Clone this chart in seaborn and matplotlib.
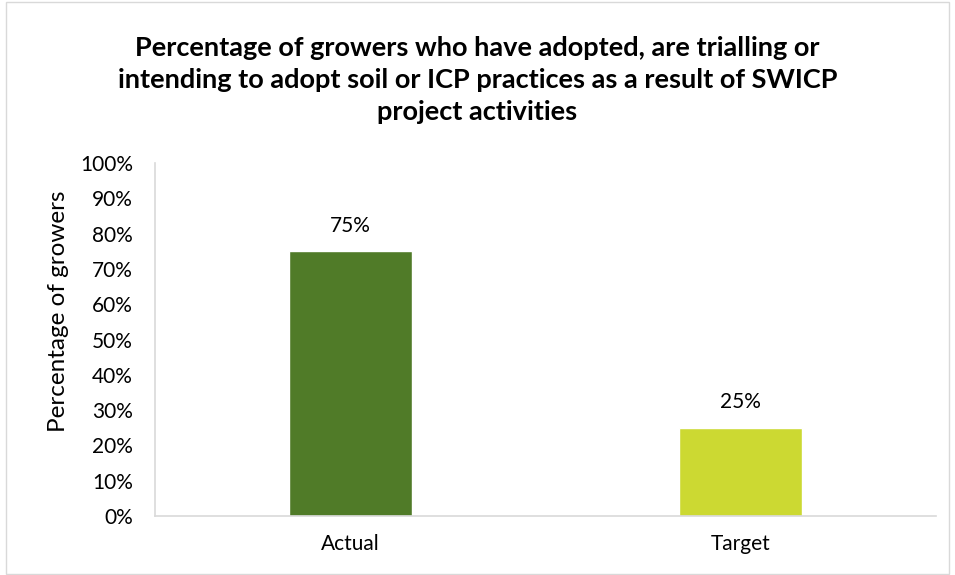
import matplotlib
matplotlib.use("Agg")
import matplotlib.pyplot as plt
import seaborn as sns
import pandas as pd
from matplotlib.patches import Rectangle
from matplotlib.ticker import FixedLocator

categories = ["Actual", "Target"]
values = [75, 25]
colors = ["#507B28", "#CCD932"]
yticks = list(range(0, 101, 10))
title = ("Percentage of growers who have adopted, are trialling or\n"
         "intending to adopt soil or ICP practices as a result of SWICP\n"
         "project activities")

sns.set_theme(style="white")
plt.rcParams['font.family'] = ['Lato', 'DejaVu Sans']

df = pd.DataFrame({"cat": categories, "val": values})

fig = plt.figure(figsize=(9.55, 5.75), dpi=100)
ax = fig.add_axes([155/955, 1-516/575, (936-155)/955, (516-163)/575])

sns.barplot(data=df, x="cat", y="val", hue="cat", palette=colors,
            width=0.315, legend=False, ax=ax, saturation=1)

fs = 15
ax.set_ylim(0, 100)
ax.set_xlim(-0.5, 1.5)
ax.set_yticks(yticks)
ax.set_yticklabels([f"{t}%" for t in yticks], fontsize=fs, color="black")
ax.set_xticks(range(len(categories)))
ax.set_xticklabels(categories, fontsize=fs, color="black")
ax.tick_params(axis="x", which="major", length=0, pad=13)
ax.tick_params(axis="y", length=0, pad=16)
ax.xaxis.set_minor_locator(FixedLocator([-0.5, 0.5, 1.5]))
ax.tick_params(axis="x", which="minor", length=5, color="#D9D9D9", width=1.2, direction="out")
ax.set_xlabel("")
ax.set_ylabel("Percentage of growers", fontsize=17.5, color="black", labelpad=8)
ax.yaxis.label.set_y(0.58)

for s in ["top", "right"]:
    ax.spines[s].set_visible(False)
for s in ["left", "bottom"]:
    ax.spines[s].set_color("#D9D9D9")
    ax.spines[s].set_linewidth(1.2)

for i, v in enumerate(values):
    ax.annotate(f"{v}%", (i, v), xytext=(0, 11), textcoords="offset points",
                ha="center", va="bottom", fontsize=fs, color="black")

fig.text(0.5, 1-80/575, title, ha="center", va="center", fontsize=19.5,
         fontweight="bold", color="black", linespacing=1.38)

fig.patches.append(Rectangle((6/955, 0.002), 1-12/955, 0.994, transform=fig.transFigure,
                             fill=False, edgecolor="#D9D9D9", linewidth=1))

fig.savefig("out.png", dpi=100)
